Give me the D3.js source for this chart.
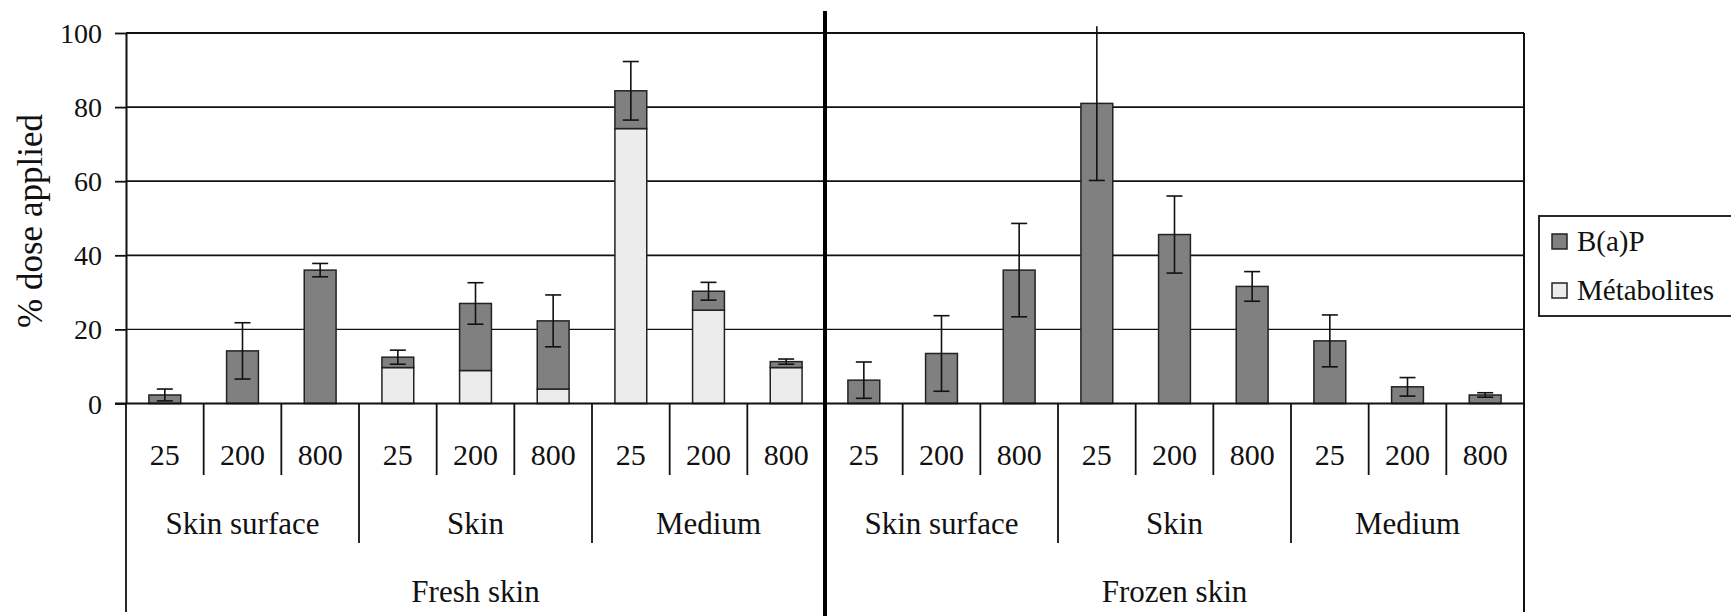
<!DOCTYPE html>
<html>
<head>
<meta charset="utf-8">
<script src="https://cdn.jsdelivr.net/npm/d3@7"></script>
<style>
  html, body { margin: 0; padding: 0; background: #fff; }
  svg { display: block; }
  svg text { font-family: 'Liberation Serif', 'Times New Roman', Times, serif; fill: #111; }
</style>
</head>
<body>
<svg id="chart" width="1731" height="616"></svg>
<script>
// ---- Data ----
const conditions = ["Fresh skin", "Frozen skin"];
const compartments = ["Skin surface", "Skin", "Medium"];
const doses = ["25", "200", "800"];
const seriesNames = ["B(a)P", "Métabolites"];
const yTicks = [0, 20, 40, 60, 80, 100];

// 18 bars: Fresh (SS 25/200/800, Skin 25/200/800, Medium 25/200/800), then Frozen (same order)
const metabolites = [0, 0, 0, 9.7, 8.9, 3.9, 74.2, 25.2, 9.7,
                     0, 0, 0, 0, 0, 0, 0, 0, 0];
const bap =         [2.3, 14.2, 36.0, 2.8, 18.1, 18.4, 10.2, 5.1, 1.6,
                     6.3, 13.5, 36.0, 81.0, 45.6, 31.6, 16.9, 4.5, 2.3];
const errors =      [1.6, 7.6, 1.8, 1.9, 5.6, 7.0, 7.9, 2.4, 0.7,
                     4.9, 10.2, 12.6, 20.8, 10.4, 4.0, 7.0, 2.5, 0.6];

// ---- Layout ----
const FONT = "'Liberation Serif', 'Times New Roman', Times, serif";
const svg = d3.select("#chart");
const X0 = 126, X1 = 1524, YTOP = 33, YZERO = 403.5;
const colBap = "#808080", colMet = "#ececec", ink = "#111";

const idx = d3.range(bap.length);
const x = d3.scaleBand().domain(idx).range([X0, X1]).paddingInner(0.59).paddingOuter(0.295);
const step = x.step();
const y = d3.scaleLinear().domain([0, 100]).range([YZERO, YTOP]);

// gridlines
svg.append("g").selectAll("line").data(yTicks.filter(d => d > 0)).join("line")
  .attr("x1", X0).attr("x2", X1)
  .attr("y1", d => y(d)).attr("y2", d => y(d))
  .attr("stroke", ink).attr("stroke-width", d => d === 20 ? 1.2 : 1.8);

// bars
const bars = svg.append("g");
bars.selectAll("rect.met").data(idx.filter(i => metabolites[i] > 0)).join("rect")
  .attr("class", "met")
  .attr("x", i => x(i)).attr("width", x.bandwidth())
  .attr("y", i => y(metabolites[i])).attr("height", i => y(0) - y(metabolites[i]))
  .attr("fill", colMet).attr("stroke", "#222").attr("stroke-width", 1.5);
bars.selectAll("rect.bap").data(idx).join("rect")
  .attr("class", "bap")
  .attr("x", i => x(i)).attr("width", x.bandwidth())
  .attr("y", i => y(metabolites[i] + bap[i])).attr("height", i => y(metabolites[i]) - y(metabolites[i] + bap[i]))
  .attr("fill", colBap).attr("stroke", "#222").attr("stroke-width", 1.5);

// error bars
const eb = svg.append("g").attr("stroke", ink).attr("stroke-width", 1.6);
const capW = 16;
idx.forEach(i => {
  const tot = metabolites[i] + bap[i];
  const cx = x(i) + x.bandwidth() / 2;
  const yt = y(tot + errors[i]), yb = y(Math.max(0, tot - errors[i]));
  eb.append("line").attr("x1", cx).attr("x2", cx).attr("y1", yt).attr("y2", yb);
  if (tot + errors[i] <= 100) eb.append("line").attr("x1", cx - capW/2).attr("x2", cx + capW/2).attr("y1", yt).attr("y2", yt);
  eb.append("line").attr("x1", cx - capW/2).attr("x2", cx + capW/2).attr("y1", yb).attr("y2", yb);
});

// y axis
const yAxis = d3.axisLeft(y).tickValues(yTicks).tickSize(11).tickSizeOuter(0).tickPadding(13);
const ga = svg.append("g").attr("transform", `translate(${X0},0)`).call(yAxis)
  .attr("font-family", FONT).attr("font-size", 28);
ga.select(".domain").attr("stroke", ink).attr("stroke-width", 2);
ga.selectAll(".tick line").attr("stroke", ink).attr("stroke-width", 1.8);
ga.selectAll(".tick text").attr("font-size", 28).attr("font-family", FONT).attr("fill", ink).attr("dy", "0.34em");

// zero line
svg.append("line").attr("x1", X0 - 11).attr("x2", X1).attr("y1", y(0)).attr("y2", y(0))
  .attr("stroke", ink).attr("stroke-width", 2);
// right border
svg.append("line").attr("x1", X1).attr("x2", X1).attr("y1", YTOP).attr("y2", 612)
  .attr("stroke", ink).attr("stroke-width", 2);

// category separators
const sep = svg.append("g").attr("stroke", ink).attr("stroke-width", 1.8);
d3.range(0, bap.length + 1).forEach(k => {
  const xx = X0 + k * step;
  let yEnd = 475;
  if (k % 3 === 0) yEnd = 543;
  if (k % 9 === 0) yEnd = 612;
  if (k === 9) return;
  sep.append("line").attr("x1", xx).attr("x2", xx).attr("y1", y(0)).attr("y2", yEnd);
});
// thick divider between conditions
svg.append("line").attr("x1", X0 + 9 * step).attr("x2", X0 + 9 * step)
  .attr("y1", 11).attr("y2", 616).attr("stroke", "#000").attr("stroke-width", 4);

// labels
const lab = svg.append("g").attr("text-anchor", "middle").attr("font-family", FONT);
idx.forEach(i => {
  lab.append("text").attr("x", X0 + (i + 0.5) * step).attr("y", 465)
    .attr("font-family", FONT).attr("font-size", 30).text(doses[i % 3]);
});
d3.range(6).forEach(g => {
  lab.append("text").attr("x", X0 + (g * 3 + 1.5) * step).attr("y", 534)
    .attr("font-family", FONT).attr("font-size", 31).text(compartments[g % 3]);
});
conditions.forEach((c, j) => {
  lab.append("text").attr("x", X0 + (j * 9 + 4.5) * step).attr("y", 602)
    .attr("font-family", FONT).attr("font-size", 31).text(c);
});

// y title
svg.append("text").attr("transform", "translate(30,221) rotate(-90)")
  .attr("text-anchor", "middle").attr("dominant-baseline", "central")
  .attr("font-family", FONT).attr("font-size", 35).text("% dose applied");

// legend
const lg = svg.append("g").attr("font-family", FONT);
lg.append("rect").attr("x", 1539).attr("y", 216).attr("width", 240).attr("height", 100)
  .attr("fill", "#fff").attr("stroke", ink).attr("stroke-width", 1.8);
const legCols = [colBap, colMet];
const legY = [251, 300];
seriesNames.forEach((s, j) => {
  lg.append("rect").attr("x", 1552).attr("y", legY[j] - 17).attr("width", 15).attr("height", 15)
    .attr("fill", legCols[j]).attr("stroke", "#222").attr("stroke-width", 1.5);
  lg.append("text").attr("x", 1577).attr("y", legY[j]).attr("font-family", FONT).attr("font-size", 29).text(s);
});
</script>
</body>
</html>
